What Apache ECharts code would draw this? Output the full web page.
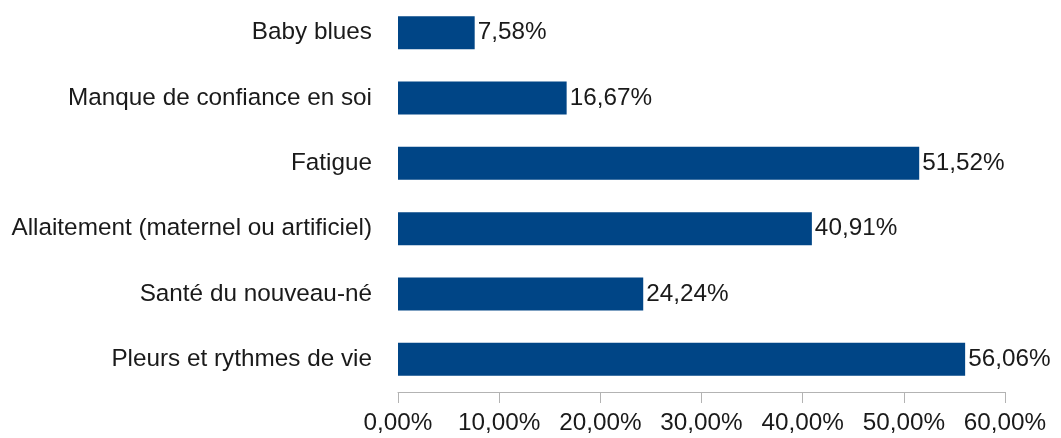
<!DOCTYPE html>
<html>
<head>
<meta charset="utf-8">
<script src="https://cdn.jsdelivr.net/npm/echarts@6/dist/echarts.min.js"></script>
<style>
  html, body { margin: 0; padding: 0; background: #fff; }
  #chart { width: 1061px; height: 438px; }
</style>
</head>
<body>
<div id="chart"></div>
<script>
var categories = ['Baby blues', 'Manque de confiance en soi', 'Fatigue', 'Allaitement (maternel ou artificiel)', 'Santé du nouveau-né', 'Pleurs et rythmes de vie'];
var values = [7.58, 16.67, 51.52, 40.91, 24.24, 56.06];

function pct(v) {
  return v.toFixed(2).replace('.', ',') + '%';
}

var chart = echarts.init(document.getElementById('chart'));
var font = 'Liberation Sans, Arial, sans-serif';

var option = {
  animation: false,
  grid: { left: 398, right: 56, top: -4, bottom: 46 },
  xAxis: {
    type: 'value',
    min: 0,
    max: 60,
    interval: 10,
    splitLine: { show: false },
    axisLine: { show: true, lineStyle: { color: '#b3b3b3', width: 1 } },
    axisTick: { show: true, length: 11, lineStyle: { color: '#b3b3b3' } },
    axisLabel: {
      margin: 19,
      color: '#1a1a1a',
      fontFamily: font,
      fontSize: 24.3,
      formatter: function(v) { return pct(v); }
    }
  },
  yAxis: {
    type: 'category',
    inverse: true,
    data: categories,
    axisLine: { show: false },
    axisTick: { show: false },
    axisLabel: {
      margin: 26,
      color: '#1a1a1a',
      fontFamily: font,
      fontSize: 24.3
    }
  },
  series: [{
    type: 'bar',
    data: values,
    barWidth: 33,
    itemStyle: { color: '#004586' },
    label: {
      show: true,
      position: 'right',
      distance: 3,
      color: '#1a1a1a',
      fontFamily: font,
      fontSize: 24.3,
      formatter: function(p) { return pct(p.value); }
    }
  }]
};
chart.setOption(option);
</script>
</body>
</html>
